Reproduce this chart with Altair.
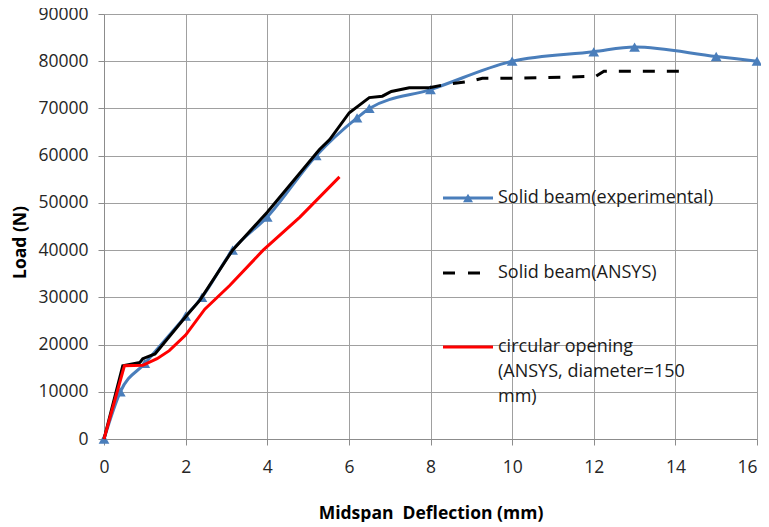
import altair as alt
import pandas as pd

# Solid beam (experimental)
exp_x = [0, 0.4, 1.0, 2.0, 2.4, 3.15, 4.0, 5.2, 6.2, 6.5, 8.0, 10.0, 12.0, 13.0, 15.0, 16.0]
exp_y = [0, 10000, 16000, 26000, 30000, 40000, 47000, 60000, 68000, 70000, 74000, 80000,
         82000, 83000, 81000, 80000]

# Solid beam (ANSYS)
ans_x = [0, 0.46, 0.88, 0.95, 1.25, 2.03, 2.35, 3.15, 4.0, 5.28, 5.53, 6.01, 6.5, 6.82,
         7.04, 7.48, 7.97, 8.39, 8.95, 9.27, 10.2, 12.05, 12.25, 14.33]
ans_y = [0, 15500, 16200, 17000, 18000, 26200, 29400, 40000, 48000, 61300, 63400, 69100,
         72300, 72600, 73600, 74400, 74400, 75100, 75700, 76400, 76400, 76800, 77900, 77900]
dash_from = 7.97

# Circular opening (ANSYS, diameter=150 mm)
circ_x = [0, 0.5, 0.95, 1.3, 1.6, 2.0, 2.47, 3.08, 3.9, 4.8, 5.77]
circ_y = [0, 15500, 15600, 17000, 18700, 22000, 27500, 32500, 40000, 47000, 55500]

x_ticks = [0, 2, 4, 6, 8, 10, 12, 14, 16]
y_ticks = [0, 10000, 20000, 30000, 40000, 50000, 60000, 70000, 80000, 90000]

legend_labels = ["Solid beam(experimental)", "Solid beam(ANSYS)",
                 ["circular opening", "(ANSYS, diameter=150", "mm)"]]

BLUE = "#4A7EBB"
FONT = "Open Sans"

exp_df = pd.DataFrame({"x": exp_x, "y": exp_y})
ans_df = pd.DataFrame({"x": ans_x, "y": ans_y})
ans_solid = ans_df[ans_df.x <= dash_from]
ans_dash = ans_df[ans_df.x >= dash_from]
circ_df = pd.DataFrame({"x": circ_x, "y": circ_y})

xs = alt.Scale(domain=[0, 16], nice=False, zero=False)
ys = alt.Scale(domain=[0, 90000], nice=False)

x_enc = alt.X("x:Q", scale=xs,
              axis=alt.Axis(values=x_ticks, title="Midspan\u00a0 Deflection (mm)",
                            labelPadding=13, tickSize=6, titleY=65, titleBaseline="top",
                            labelAlign=alt.expr("datum.value == 16 ? 'right' : 'center'"),
                            labelBound=False))
y_enc = alt.Y("y:Q", scale=ys,
              axis=alt.Axis(values=y_ticks, format="d", title="Load (N)",
                            labelPadding=10, tickSize=6, titleX=-75, titleY=228))

base_exp = alt.Chart(exp_df).encode(x=x_enc, y=y_enc)
exp_line = base_exp.mark_line(color=BLUE, strokeWidth=3, interpolate="monotone")
exp_pts = base_exp.mark_point(shape="triangle-up", filled=True, color=BLUE, size=115, opacity=1)

ans_line1 = alt.Chart(ans_solid).mark_line(color="black", strokeWidth=3).encode(x="x:Q", y="y:Q")
ans_line2 = alt.Chart(ans_dash).mark_line(color="black", strokeWidth=3,
                                          strokeDash=[12, 12]).encode(x="x:Q", y="y:Q")
circ_line = alt.Chart(circ_df).mark_line(color="#FF0000", strokeWidth=3).encode(x="x:Q", y="y:Q")

one = alt.Data(values=[{"k": 1}])
lx0, lx1, ltx = 339, 389, 394
ly = [184, 259, 333]

leg = []
leg.append(alt.Chart(one).mark_rule(color=BLUE, strokeWidth=3).encode(
    x=alt.value(lx0), x2=alt.value(lx1), y=alt.value(ly[0])))
leg.append(alt.Chart(one).mark_point(shape="triangle-up", filled=True, color=BLUE,
                                      size=100, opacity=1).encode(
    x=alt.value((lx0 + lx1) / 2), y=alt.value(ly[0])))
leg.append(alt.Chart(one).mark_rule(color="black", strokeWidth=3, strokeDash=[12, 13]).encode(
    x=alt.value(lx0), x2=alt.value(lx0 + 40), y=alt.value(ly[1])))
leg.append(alt.Chart(one).mark_rule(color="#FF0000", strokeWidth=3).encode(
    x=alt.value(lx0), x2=alt.value(lx1), y=alt.value(ly[2])))
for lab, yy in zip(legend_labels, ly):
    leg.append(alt.Chart(one).mark_text(align="left", baseline="middle", font=FONT,
                                        fontSize=18, color="#1a1a1a", lineHeight=25).encode(
        x=alt.value(ltx), y=alt.value(yy), text=alt.value(lab)))

chart = alt.layer(exp_line, exp_pts, ans_line1, ans_line2, circ_line, *leg).properties(
    width=653, height=425,
    autosize=alt.AutoSizeParams(type="none"),
    padding={"left": 96, "top": 6, "right": 4, "bottom": 83},
).configure_view(stroke=None).configure_axis(
    grid=True, gridColor="#A0A0A0", gridWidth=1,
    domainColor="#8C8C8C", tickColor="#8C8C8C", domainWidth=1,
    labelFont=FONT, labelFontSize=17.5, labelColor="#262626",
    titleFont=FONT, titleFontSize=17.5, titleFontWeight="bold", titleColor="black",
)

chart.save("out.html", embed_options={"renderer": "svg", "actions": False})
